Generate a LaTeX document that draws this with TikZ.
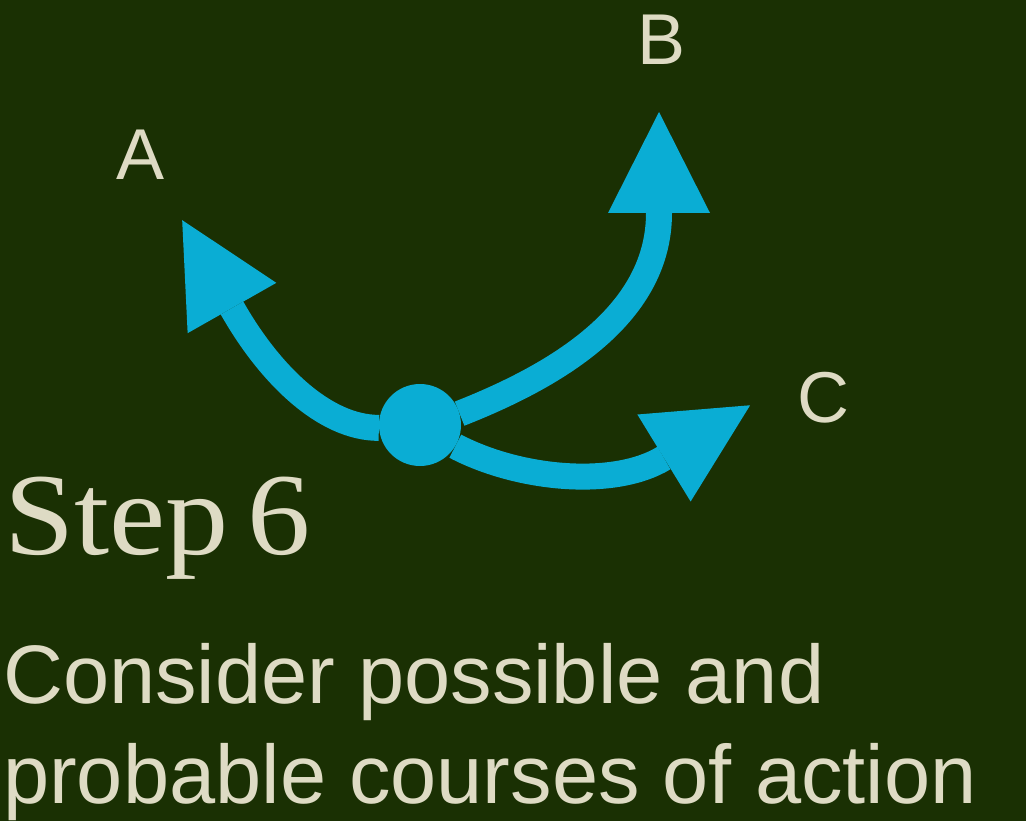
\documentclass[tikz,border=0pt]{standalone}
\usepackage{fontspec}
\setmainfont{Liberation Sans}
\newfontfamily\stepfont[FakeStretch=1.08]{Liberation Serif}
\usetikzlibrary{arrows.meta}
\definecolor{bgGreen}{RGB}{26,48,3}
\definecolor{pathBlue}{RGB}{10,173,212}
\definecolor{labelCream}{RGB}{222,219,196}
\tikzset{
  course/.style={line width=26pt, pathBlue, shorten >=-101pt,
    -{Triangle[length=101pt,width=102pt,line width=0pt]}},
  letter/.style={labelCream, inner sep=0pt, anchor=base, font=\fontsize{72}{72}\selectfont},
  caption/.style={labelCream, inner sep=0pt, anchor=base west, font=\fontsize{83}{100}\selectfont}
}
\begin{document}
\begin{tikzpicture}[x=1pt,y=-1pt]
  \fill[bgGreen] (0,0) rectangle (1026,821);

  % hub and the three courses
  \node[circle, fill=pathBlue, minimum size=82pt, inner sep=0pt] (hub) at (420,425) {};
  \coordinate (endA) at (232,308);
  \coordinate (endB) at (659,213);
  \coordinate (endC) at (664,458);
  \draw[course] (hub.184) .. controls (325,428) and (270,375) .. (endA);
  \draw[course] (hub.16) .. controls (550,378) and (659,318) .. (endB);
  \draw[course] (hub.-31) .. controls (520,480) and (615,488) .. (endC);

  \node[letter] (labA) at (141,180) {A};
  \node[letter] (labB) at (662,65) {B};
  \node[letter] (labC) at (823,422) {C};

  % title and caption
  \node[labelCream, inner sep=0pt, anchor=base west, font={\stepfont\fontsize{117}{117}\selectfont}] (stepTitle) at (4,554) {Step\kern19pt6};
  \node[caption] (lineOne) at (3,703) {Consider possible and};
  \node[caption] (lineTwo) at (3,803) {probable courses of action};
\end{tikzpicture}
\end{document}
